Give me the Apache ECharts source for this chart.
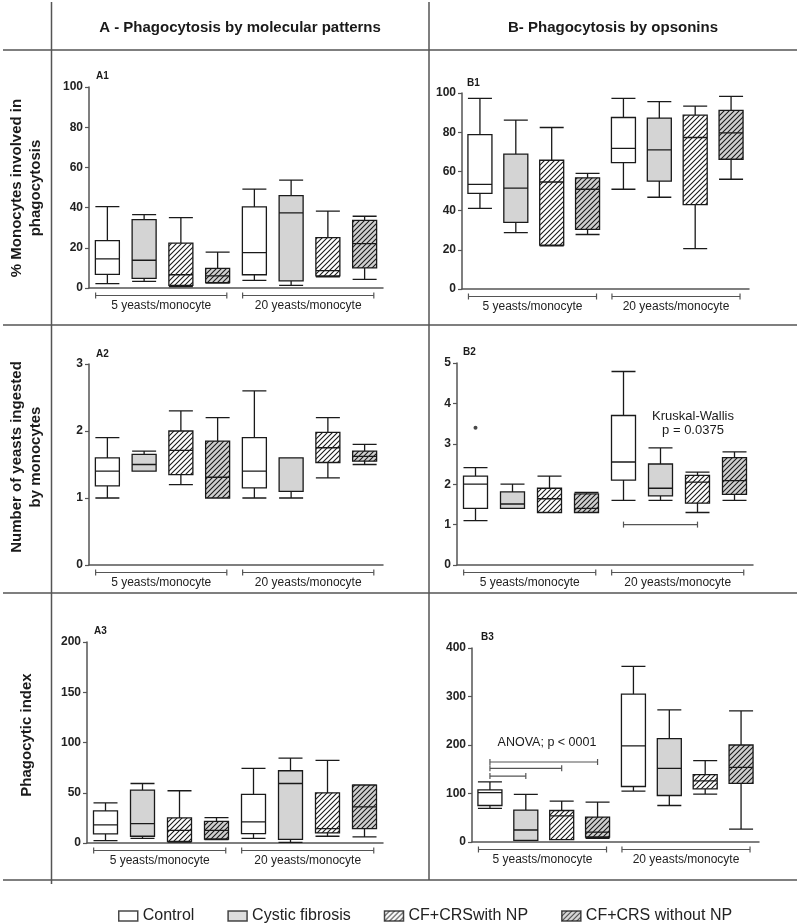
<!DOCTYPE html>
<html>
<head>
<meta charset="utf-8">
<title>Phagocytosis by molecular patterns and opsonins</title>
<script src="https://cdn.jsdelivr.net/npm/echarts@6/dist/echarts.min.js"></script>
<style>
html, body { margin: 0; padding: 0; background: #fff; }
#chart { width: 800px; height: 924px; }
</style>
</head>
<body>
<div id="chart"></div>
<script>
var groups = ['Control', 'Cystic fibrosis', 'CF+CRSwith NP', 'CF+CRS without NP'];
var cats = ['C-5', 'CF-5', 'NP-5', 'noNP-5', 'C-20', 'CF-20', 'NP-20', 'noNP-20'];
var groupLabels = ['5 yeasts/monocyte', '20 yeasts/monocyte'];
var groupSpans = [[0, 3], [4, 7]];

// box data: [min, Q1, median, Q3, max]
var a1Box = [[2.2, 6.8, 14.5, 23.6, 40.5], [3.3, 4.8, 13.8, 34, 36.5], [0.7, 1.3, 6.6, 22.3, 35], [2.5, 2.7, 6, 9.8, 17.8],
             [3.8, 6.6, 17.6, 40.4, 49.2], [1.3, 3.5, 37.4, 46, 53.7], [5.6, 6, 8.6, 25.1, 38.2], [4.3, 10, 22.1, 33.6, 35.7]];
var b1Box = [[41.1, 48.8, 53.4, 78.8, 97.3], [28.8, 34, 51.5, 68.8, 86.2], [22, 22.4, 54.6, 65.7, 82.4], [27.8, 30.4, 50.9, 56.7, 59],
             [50.9, 64.5, 71.7, 87.5, 97.3], [46.8, 55, 71, 87.2, 95.6], [20.6, 43, 77.3, 88.7, 93.3], [56, 66.2, 79.7, 91.1, 98.3]];
var a2Box = [[1.0, 1.18, 1.4, 1.6, 1.9], [1.4, 1.4, 1.5, 1.65, 1.7], [1.2, 1.35, 1.71, 2.0, 2.3], [1.0, 1.0, 1.31, 1.85, 2.2],
             [1.0, 1.15, 1.4, 1.9, 2.6], [1.0, 1.1, 1.1, 1.6, 1.6], [1.3, 1.53, 1.75, 1.98, 2.2], [1.5, 1.55, 1.62, 1.7, 1.8]];
var b2Box = [[1.1, 1.4, 2.0, 2.2, 2.41], [1.4, 1.4, 1.51, 1.81, 2.0], [1.3, 1.3, 1.64, 1.9, 2.2], [1.3, 1.3, 1.4, 1.76, 1.8],
             [1.6, 2.1, 2.55, 3.7, 4.79], [1.6, 1.71, 1.9, 2.5, 2.9], [1.3, 1.53, 2.05, 2.22, 2.3], [1.6, 1.75, 2.09, 2.66, 2.8]];
var b2Outliers = [[0, 3.4]];
var a3Box = [[2.3, 9, 18, 32, 40], [4.7, 6.7, 19.3, 52.6, 59.2], [1, 1.7, 12.6, 25, 52], [3.3, 4, 12.6, 21.6, 25.3],
             [4.7, 9.3, 21, 48.3, 74.2], [0.7, 3.7, 59.2, 71.9, 84.5], [6.7, 10, 14.3, 49.9, 82.2], [6, 14.3, 36, 57.6, 57.9]];
var b3Box = [[69.2, 75.3, 102, 107.5, 124], [3.4, 3.4, 24.7, 65.8, 98], [4.8, 4.8, 54, 65, 84.2], [7.5, 10.3, 20.5, 51.4, 82.2],
             [104.8, 114.4, 198, 304.8, 362], [75.3, 95.9, 152, 213, 272.6], [98.6, 109.6, 126, 139, 167.8], [26.7, 121, 154, 200, 270.5]];

// significance bars: [from category, to category, y value]
var b2Sig = [[4, 6, 1.0]];
var b3Sig = [[0, 3, 165], [0, 2, 152], [0, 1, 136]];

var yTicks = {
    a1: [0, 100, 20], b1: [0, 100, 20],
    a2: [0, 3, 1], b2: [0, 5, 1],
    a3: [0, 200, 50], b3: [0, 400, 100]
};

var FONT = '"Liberation Sans", Arial, sans-serif';
var INK = '#1a1a1a';
var AXIS = '#555';

function hatch(bg) {
    var c = document.createElement('canvas');
    c.width = 5; c.height = 5;
    var g = c.getContext('2d');
    g.fillStyle = bg;
    g.fillRect(0, 0, 5, 5);
    g.strokeStyle = INK;
    g.lineWidth = 1.1;
    g.beginPath();
    g.moveTo(0, 5); g.lineTo(5, 0);
    g.moveTo(-1, 1); g.lineTo(1, -1);
    g.moveTo(4, 6); g.lineTo(6, 4);
    g.stroke();
    return { image: c, repeat: 'repeat' };
}
var fills = ['#ffffff', '#d4d4d4', hatch('#ffffff'), hatch('#d0d0d0')];

var panels = [
    { key: 'a1', box: a1Box, grid: { left: 89, top: 87, width: 294, height: 201 } },
    { key: 'b1', box: b1Box, grid: { left: 462, top: 93, width: 287, height: 196 } },
    { key: 'a2', box: a2Box, grid: { left: 89, top: 364, width: 294, height: 201 } },
    { key: 'b2', box: b2Box, grid: { left: 457, top: 363, width: 296, height: 202 } },
    { key: 'a3', box: a3Box, grid: { left: 87, top: 642, width: 296, height: 201 } },
    { key: 'b3', box: b3Box, grid: { left: 472, top: 648, width: 287, height: 194 } }
];

function groupBracket(params, api) {
    var a = api.coord([api.value(0), 0]);
    var b = api.coord([api.value(1), 0]);
    var bw = api.size([1, 0])[0];
    var x0 = a[0] - 0.32 * bw, x1 = b[0] + 0.25 * bw, y = a[1] + 7.5;
    var st = { stroke: AXIS, lineWidth: 1.2 };
    return {
        type: 'group',
        children: [
            { type: 'line', shape: { x1: x0, y1: y, x2: x1, y2: y }, style: st },
            { type: 'line', shape: { x1: x0, y1: y - 3, x2: x0, y2: y + 3 }, style: st },
            { type: 'line', shape: { x1: x1, y1: y - 3, x2: x1, y2: y + 3 }, style: st },
            { type: 'text', x: (x0 + x1) / 2, y: y + 4,
              style: { text: groupLabels[params.dataIndex], align: 'center', verticalAlign: 'top',
                       fontSize: 12, fontFamily: FONT, fill: '#222' } }
        ]
    };
}

function sigBracket(params, api) {
    var a = api.coord([api.value(0), api.value(2)]);
    var b = api.coord([api.value(1), api.value(2)]);
    var st = { stroke: AXIS, lineWidth: 1.2 };
    return {
        type: 'group',
        children: [
            { type: 'line', shape: { x1: a[0], y1: a[1], x2: b[0], y2: b[1] }, style: st },
            { type: 'line', shape: { x1: a[0], y1: a[1] - 3, x2: a[0], y2: a[1] + 3 }, style: st },
            { type: 'line', shape: { x1: b[0], y1: b[1] - 3, x2: b[0], y2: b[1] + 3 }, style: st }
        ]
    };
}

var grids = [], xAxes = [], yAxes = [], series = [];
panels.forEach(function (p, i) {
    var t = yTicks[p.key];
    grids.push(p.grid);
    xAxes.push({
        type: 'category', gridIndex: i, data: cats,
        axisLine: { lineStyle: { color: AXIS, width: 1.5 } },
        axisTick: { alignWithLabel: true, length: 4, lineStyle: { color: AXIS, width: 1.2 } },
        axisLabel: { show: false },
        splitLine: { show: false }
    });
    yAxes.push({
        type: 'value', gridIndex: i, min: t[0], max: t[1], interval: t[2],
        axisLine: { show: true, lineStyle: { color: AXIS, width: 1.5 } },
        axisTick: { show: true, length: 4, lineStyle: { color: AXIS, width: 1.2 } },
        axisLabel: { color: '#222', fontWeight: 'bold', fontSize: 12, fontFamily: FONT, margin: 6 },
        splitLine: { show: false }
    });
    series.push({
        type: 'boxplot', name: p.key, xAxisIndex: i, yAxisIndex: i,
        boxWidth: [24, 24],
        itemStyle: { borderColor: INK, borderWidth: 1.3 },
        data: p.box.map(function (v, j) {
            return { value: v, itemStyle: { color: fills[j % 4] } };
        })
    });
    series.push({
        type: 'custom', name: p.key + '-groups', xAxisIndex: i, yAxisIndex: i,
        renderItem: groupBracket, clip: false, silent: true,
        encode: { x: [0, 1] },
        data: groupSpans
    });
});

series.push({
    type: 'scatter', name: 'b2-outlier', xAxisIndex: 3, yAxisIndex: 3,
    symbolSize: 4, itemStyle: { color: INK }, data: b2Outliers
});
series.push({
    type: 'custom', name: 'b2-sig', xAxisIndex: 3, yAxisIndex: 3, renderItem: sigBracket,
    clip: false, encode: { x: [0, 1], y: 2 }, data: b2Sig
});
series.push({
    type: 'custom', name: 'b3-sig', xAxisIndex: 5, yAxisIndex: 5, renderItem: sigBracket,
    clip: false, encode: { x: [0, 1], y: 2 }, data: b3Sig
});

// empty series that only feed the legend
groups.forEach(function (g, i) {
    series.push({ type: 'scatter', name: g, xAxisIndex: 0, yAxisIndex: 0, data: [],
                  itemStyle: { color: fills[i], borderColor: INK, borderWidth: 1.5 } });
});

function txt(x, y, s, size, bold, align, rot) {
    return {
        type: 'text', x: x, y: y, rotation: rot || 0,
        style: { text: s, fontSize: size, fontWeight: bold ? 'bold' : 'normal', fontFamily: FONT,
                 fill: '#1a1a1a', align: align || 'center', verticalAlign: 'middle' }
    };
}
function rule(x1, y1, x2, y2) {
    return { type: 'line', shape: { x1: x1, y1: y1, x2: x2, y2: y2 }, style: { stroke: '#555', lineWidth: 1.5 } };
}

var R = Math.PI / 2;
var graphics = [
    rule(3, 50, 797, 50), rule(3, 325, 797, 325), rule(3, 593, 797, 593), rule(3, 880, 797, 880),
    rule(51.5, 2, 51.5, 884), rule(429, 2, 429, 880),
    txt(240, 28, 'A - Phagocytosis by molecular patterns', 15, true),
    txt(613, 28, 'B- Phagocytosis by opsonins', 15, true),
    txt(17, 188, '% Monocytes involved in', 15, true, 'center', R),
    txt(36, 188, 'phagocytosis', 15, true, 'center', R),
    txt(17, 457, 'Number of yeasts ingested', 15, true, 'center', R),
    txt(36, 457, 'by monocytes', 15, true, 'center', R),
    txt(27, 735, 'Phagocytic index', 15, true, 'center', R),
    txt(96, 76, 'A1', 10, true, 'left'),
    txt(467, 83, 'B1', 10, true, 'left'),
    txt(96, 354, 'A2', 10, true, 'left'),
    txt(463, 352, 'B2', 10, true, 'left'),
    txt(94, 631, 'A3', 10, true, 'left'),
    txt(481, 637, 'B3', 10, true, 'left'),
    txt(693, 416, 'Kruskal-Wallis', 13, false),
    txt(693, 430, 'p = 0.0375', 13, false),
    txt(547, 743, 'ANOVA; p < 0001', 12.5, false)
];

var option = {
    animation: false,
    backgroundColor: '#fff',
    textStyle: { fontFamily: FONT },
    legend: {
        left: 113, top: 903, itemWidth: 19, itemHeight: 10, itemGap: 33,
        selectedMode: false,
        textStyle: { fontFamily: FONT, fontSize: 16, color: '#222' },
        data: groups.map(function (g, i) {
            return { name: g, icon: 'rect', itemStyle: { color: fills[i], borderColor: INK, borderWidth: 1.5 } };
        })
    },
    grid: grids,
    xAxis: xAxes,
    yAxis: yAxes,
    series: series,
    graphic: graphics
};

var myChart = echarts.init(document.getElementById('chart'));
myChart.setOption(option);
</script>
</body>
</html>
